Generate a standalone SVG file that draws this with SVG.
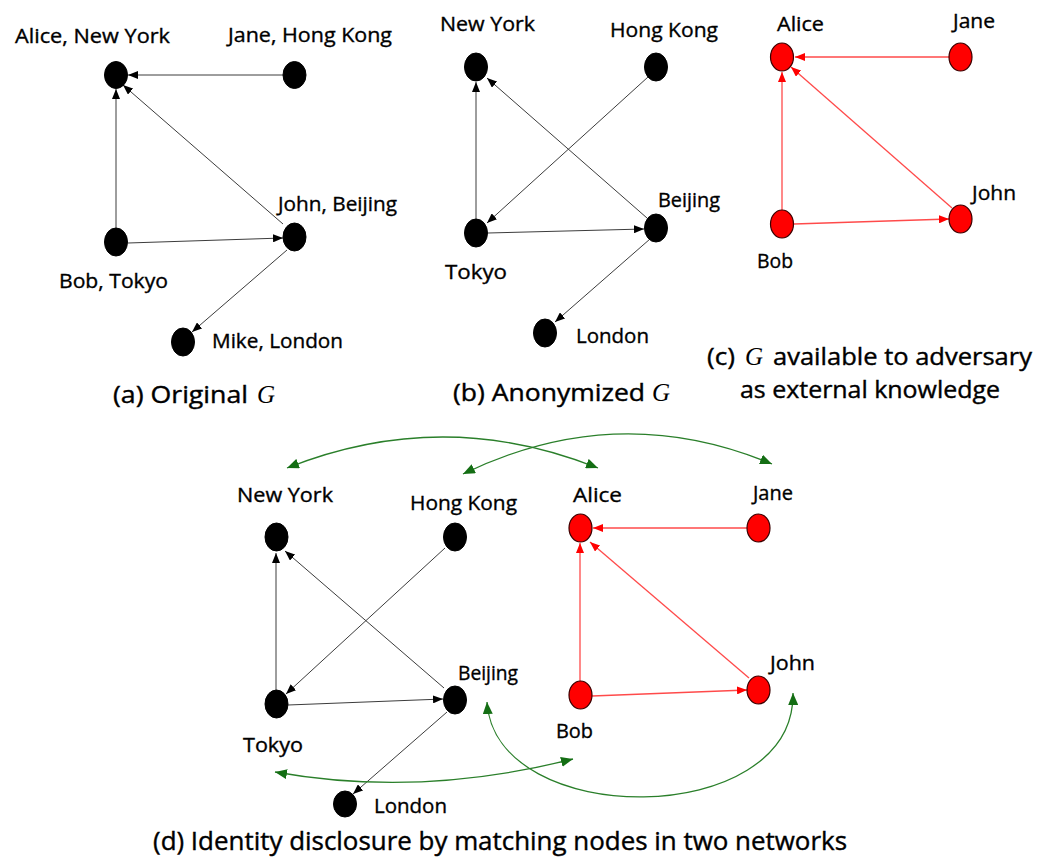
<svg xmlns="http://www.w3.org/2000/svg" width="1050" height="857" viewBox="0 0 1050 857">
  <style>
    .lbl { font-family: "Open Sans", "Liberation Sans", sans-serif; font-size: 20px; fill: #000; stroke: #000; stroke-width: 0.35; }
    .cap { font-family: "Open Sans", "Liberation Sans", sans-serif; font-size: 24px; fill: #000; stroke: #000; stroke-width: 0.4; }
    .capd { font-family: "Open Sans", "Liberation Sans", sans-serif; font-size: 26px; fill: #000; stroke: #000; stroke-width: 0.4; }
    .gvar { font-family: "Liberation Serif", serif; font-style: italic; font-size: 25px; fill: #000; }
    .nb { fill: #000; stroke: #000; stroke-width: 1; }
    .nr { fill: #ff0000; stroke: #3a0000; stroke-width: 1.2; }
    .eb { stroke: #3c3c3c; stroke-width: 1; fill: none; marker-end: url(#ah-black); }
    .er { stroke: #ff4a4a; stroke-width: 1.3; fill: none; marker-end: url(#ah-red); }
    .eg { stroke: #2a7f2a; stroke-width: 1.3; fill: none; marker-start: url(#ah-green); marker-end: url(#ah-green); }
  </style>
  <defs>
    <marker id="ah-black" viewBox="0 0 10 8" refX="10" refY="4" markerWidth="10" markerHeight="8" markerUnits="userSpaceOnUse" orient="auto">
      <path d="M0,0 L10,4 L0,8 Z" fill="#000"/>
    </marker>
    <marker id="ah-red" viewBox="0 0 10 8" refX="10" refY="4" markerWidth="10" markerHeight="8" markerUnits="userSpaceOnUse" orient="auto">
      <path d="M0,0 L10,4 L0,8 Z" fill="#ff0000"/>
    </marker>
    <marker id="ah-green" viewBox="0 0 12 10" refX="12" refY="5" markerWidth="12" markerHeight="10" markerUnits="userSpaceOnUse" orient="auto-start-reverse">
      <path d="M0,0 L12,5 L0,10 Z" fill="#146e14"/>
    </marker>
  </defs>

  <rect x="0" y="0" width="1050" height="857" fill="#fff"/>

  <!-- connectors -->
  <g id="connectors">
    <!-- (a) original graph -->
    <line class="eb" x1="283" y1="75" x2="128" y2="75"/>
    <line class="eb" x1="116" y1="228" x2="116" y2="89"/>
    <line class="eb" x1="283" y1="224" x2="123" y2="85"/>
    <line class="eb" x1="128" y1="243" x2="283" y2="238"/>
    <line class="eb" x1="287" y1="250" x2="192" y2="332"/>
    <!-- (b) anonymized graph -->
    <line class="eb" x1="476" y1="219" x2="476" y2="82"/>
    <line class="eb" x1="647" y1="218" x2="487" y2="78"/>
    <line class="eb" x1="648" y1="77" x2="487" y2="223"/>
    <line class="eb" x1="488" y1="233" x2="644" y2="229"/>
    <line class="eb" x1="650" y1="239" x2="555" y2="322"/>
    <!-- (c) adversary knowledge -->
    <line class="er" x1="949" y1="57" x2="795" y2="57"/>
    <line class="er" x1="782" y1="210" x2="782" y2="72"/>
    <line class="er" x1="952" y1="208" x2="791" y2="67"/>
    <line class="er" x1="794" y1="224" x2="949" y2="219"/>
    <!-- (d) anonymized graph -->
    <line class="eb" x1="276" y1="690" x2="276" y2="553"/>
    <line class="eb" x1="444" y1="688" x2="285" y2="551"/>
    <line class="eb" x1="445" y1="548" x2="286" y2="694"/>
    <line class="eb" x1="288" y1="705" x2="443" y2="699"/>
    <line class="eb" x1="447" y1="712" x2="353" y2="794"/>
    <!-- (d) known graph -->
    <line class="er" x1="747" y1="528" x2="593" y2="528"/>
    <line class="er" x1="580" y1="681" x2="580" y2="543"/>
    <line class="er" x1="749" y1="678" x2="590" y2="542"/>
    <line class="er" x1="592" y1="696" x2="747" y2="690"/>
    <!-- (d) matches between the two networks -->
    <path class="eg" d="M287,468 Q443,406 598,468"/>
    <path class="eg" d="M463,474 Q617,399 772,464"/>
    <path class="eg" d="M275,772 Q420,798 573,759"/>
    <path class="eg" d="M487,702 C495,830 795,830 793,693"/>
  </g>

  <!-- (a) Original G -->
  <g id="a-alice"><ellipse class="nb" cx="116" cy="75" rx="11.5" ry="13.5"/><text class="lbl" x="15" y="43" textLength="155" lengthAdjust="spacingAndGlyphs">Alice, New York</text></g>
  <g id="a-jane"><ellipse class="nb" cx="294.5" cy="75" rx="11.5" ry="13.5"/><text class="lbl" x="228" y="42" textLength="164" lengthAdjust="spacingAndGlyphs">Jane, Hong Kong</text></g>
  <g id="a-bob"><ellipse class="nb" cx="116" cy="242" rx="11.5" ry="14"/><text class="lbl" x="59" y="288" textLength="109" lengthAdjust="spacingAndGlyphs">Bob, Tokyo</text></g>
  <g id="a-john"><ellipse class="nb" cx="294.5" cy="237" rx="11.5" ry="14"/><text class="lbl" x="278" y="211" textLength="119" lengthAdjust="spacingAndGlyphs">John, Beijing</text></g>
  <g id="a-mike"><ellipse class="nb" cx="183" cy="342" rx="11.5" ry="14"/><text class="lbl" x="212" y="348" textLength="131" lengthAdjust="spacingAndGlyphs">Mike, London</text></g>
  <g id="a-caption">
    <text class="cap" x="113" y="403" textLength="135" lengthAdjust="spacingAndGlyphs">(a) Original</text>
    <text class="gvar" x="257" y="403">G</text>
  </g>

  <!-- (b) Anonymized G -->
  <g id="b-newyork"><ellipse class="nb" cx="476" cy="67" rx="11.5" ry="14"/><text class="lbl" x="440" y="31" textLength="95" lengthAdjust="spacingAndGlyphs">New York</text></g>
  <g id="b-hongkong"><ellipse class="nb" cx="656" cy="67" rx="11.5" ry="14"/><text class="lbl" x="610" y="37" textLength="108" lengthAdjust="spacingAndGlyphs">Hong Kong</text></g>
  <g id="b-tokyo"><ellipse class="nb" cx="476" cy="233" rx="11.5" ry="14"/><text class="lbl" x="445" y="279" textLength="62" lengthAdjust="spacingAndGlyphs">Tokyo</text></g>
  <g id="b-beijing"><ellipse class="nb" cx="656" cy="228" rx="11.5" ry="14"/><text class="lbl" x="658" y="207" textLength="62" lengthAdjust="spacingAndGlyphs">Beijing</text></g>
  <g id="b-london"><ellipse class="nb" cx="545" cy="333" rx="11.5" ry="14"/><text class="lbl" x="576" y="343" textLength="73" lengthAdjust="spacingAndGlyphs">London</text></g>
  <g id="b-caption">
    <text class="cap" x="453" y="401" textLength="192" lengthAdjust="spacingAndGlyphs">(b) Anonymized</text>
    <text class="gvar" x="652" y="401">G</text>
  </g>

  <!-- (c) G available to adversary -->
  <g id="c-alice"><ellipse class="nr" cx="782" cy="57" rx="11.5" ry="14"/><text class="lbl" x="777" y="31" textLength="47" lengthAdjust="spacingAndGlyphs">Alice</text></g>
  <g id="c-jane"><ellipse class="nr" cx="960.5" cy="57" rx="11.5" ry="14"/><text class="lbl" x="953" y="28" textLength="42" lengthAdjust="spacingAndGlyphs">Jane</text></g>
  <g id="c-bob"><ellipse class="nr" cx="782" cy="224" rx="11.5" ry="14"/><text class="lbl" x="757" y="268" textLength="36" lengthAdjust="spacingAndGlyphs">Bob</text></g>
  <g id="c-john"><ellipse class="nr" cx="960.5" cy="219" rx="11.5" ry="14"/><text class="lbl" x="972" y="200" textLength="44" lengthAdjust="spacingAndGlyphs">John</text></g>
  <g id="c-caption">
    <text class="cap" x="707" y="365" textLength="28" lengthAdjust="spacingAndGlyphs">(c)</text>
    <text class="gvar" x="745" y="365">G</text>
    <text class="cap" x="773" y="365" textLength="259" lengthAdjust="spacingAndGlyphs">available to adversary</text>
    <text class="cap" x="740" y="398" textLength="260" lengthAdjust="spacingAndGlyphs">as external knowledge</text>
  </g>

  <!-- (d) anonymized network -->
  <g id="d-newyork"><ellipse class="nb" cx="276.5" cy="537" rx="11.5" ry="14"/><text class="lbl" x="237" y="502" textLength="96" lengthAdjust="spacingAndGlyphs">New York</text></g>
  <g id="d-hongkong"><ellipse class="nb" cx="455" cy="537" rx="11.5" ry="14"/><text class="lbl" x="410" y="510" textLength="107" lengthAdjust="spacingAndGlyphs">Hong Kong</text></g>
  <g id="d-tokyo"><ellipse class="nb" cx="276.5" cy="704" rx="11.5" ry="14"/><text class="lbl" x="243" y="752" textLength="60" lengthAdjust="spacingAndGlyphs">Tokyo</text></g>
  <g id="d-beijing"><ellipse class="nb" cx="455" cy="700" rx="11.5" ry="14"/><text class="lbl" x="458" y="680" textLength="60" lengthAdjust="spacingAndGlyphs">Beijing</text></g>
  <g id="d-london"><ellipse class="nb" cx="345" cy="804" rx="11.5" ry="13"/><text class="lbl" x="374" y="813" textLength="73" lengthAdjust="spacingAndGlyphs">London</text></g>

  <!-- (d) known network -->
  <g id="d-alice"><ellipse class="nr" cx="580.5" cy="528" rx="11.5" ry="14"/><text class="lbl" x="573" y="502" textLength="49" lengthAdjust="spacingAndGlyphs">Alice</text></g>
  <g id="d-jane"><ellipse class="nr" cx="758.5" cy="528" rx="11.5" ry="14"/><text class="lbl" x="753" y="500" textLength="40" lengthAdjust="spacingAndGlyphs">Jane</text></g>
  <g id="d-bob"><ellipse class="nr" cx="580.5" cy="695" rx="11.5" ry="14"/><text class="lbl" x="556" y="738" textLength="37" lengthAdjust="spacingAndGlyphs">Bob</text></g>
  <g id="d-john"><ellipse class="nr" cx="758.5" cy="690" rx="11.5" ry="14"/><text class="lbl" x="770" y="670" textLength="45" lengthAdjust="spacingAndGlyphs">John</text></g>

  <g id="d-caption">
    <text class="capd" x="153" y="850" textLength="694" lengthAdjust="spacingAndGlyphs">(d) Identity disclosure by matching nodes in two networks</text>
  </g>
</svg>
